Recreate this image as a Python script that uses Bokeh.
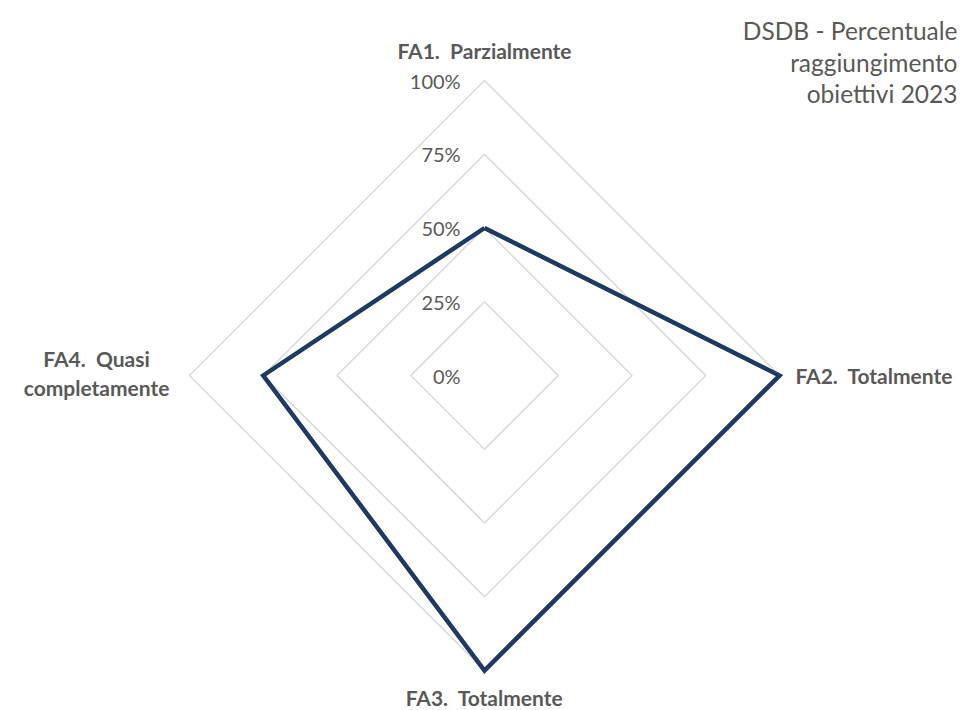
import numpy as np
from bokeh.plotting import figure
from bokeh.models import Range1d
from bokeh.core.properties import value
from bokeh.embed import file_html
from bokeh.resources import INLINE

NB = "\u00a0"
categories = ["FA1." + NB + " Parzialmente", "FA2." + NB + " Totalmente",
              "FA3." + NB + " Totalmente", "FA4." + NB + " Quasi\ncompletamente"]
values = [50, 100, 100, 75]
ring_levels = [25, 50, 75, 100]
tick_labels = ["0%", "25%", "50%", "75%", "100%"]
tick_values = [0, 25, 50, 75, 100]
title_lines = ["DSDB - Percentuale", "raggiungimento", "obiettivi 2023"]

W, H = 968, 710
cx, cy = 484, 375          # centre in figure pixels
scale = 2.95               # pixels per percent
x0 = -cx / scale
x1 = (W - cx) / scale
y1 = cy / scale
y0 = -(H - cy) / scale

FONT = "Lato"
GRAY = "#595959"

p = figure(width=W, height=H, output_backend="svg", toolbar_location=None,
           x_range=Range1d(x0, x1), y_range=Range1d(y0, y1),
           min_border=0, min_border_left=0, min_border_right=0,
           min_border_top=0, min_border_bottom=0)
p.axis.visible = False
p.grid.visible = False
p.outline_line_color = None
p.background_fill_color = "white"
p.border_fill_color = "white"

n = len(categories)
theta = np.arange(n) * 2 * np.pi / n
sx, sy = np.sin(theta), np.cos(theta)

# grid rings
for r in ring_levels:
    xs = list(r * sx) + [r * sx[0]]
    ys = list(r * sy) + [r * sy[0]]
    p.line(xs, ys, line_color="#d9d9d9", line_width=1.5)

# data polygon
vals = np.array(values, dtype=float)
xs = list(vals * sx) + [vals[0] * sx[0]]
ys = list(vals * sy) + [vals[0] * sy[0]]
p.line(xs, ys, line_color="#1F3864", line_width=4.5, line_join="miter")

# tick labels along top spoke
p.text(x=[-8.1] * len(tick_values), y=tick_values, text=tick_labels,
       text_align="right", text_baseline="middle", text_font=value(FONT),
       text_font_size="20px", text_color=GRAY)

LBL = dict(text_baseline="middle", text_font=value(FONT), text_font_size="21px",
           text_font_style="bold", text_color=GRAY)
# FA1 top
p.text(x=[0], y=[110.2], text=[categories[0]], text_align="center", **LBL)
# FA2 right
p.text(x=[105.4], y=[0], text=[categories[1]], text_align="left", **LBL)
# FA3 bottom
p.text(x=[0], y=[-109.2], text=[categories[2]], text_align="center", **LBL)
# FA4 left (two lines)
l1, l2 = categories[3].split("\n")
p.text(x=[-131.5, -131.5], y=[(375 - 358) / scale, (375 - 387) / scale], text=[l1, l2],
       text_align="center", **LBL)

# title lines, right-aligned
ty = [(cy - py) / scale for py in (30, 62, 93)]
p.text(x=[(957 - cx) / scale] * 3, y=ty, text=title_lines, text_align="right",
       text_baseline="middle", text_font=value(FONT), text_font_size="24.5px",
       text_color=GRAY)

open("out.html", "w").write(file_html(p, INLINE))
